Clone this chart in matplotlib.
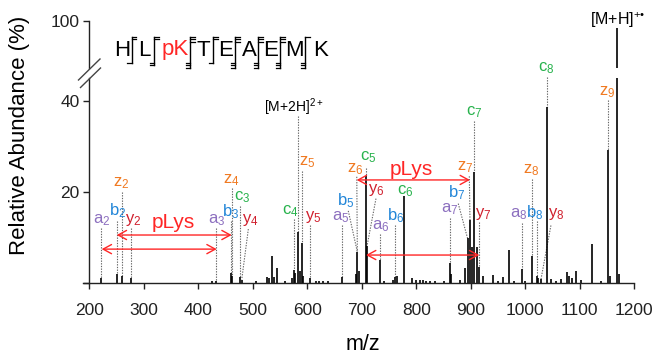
import matplotlib
matplotlib.use('Agg')
import matplotlib.pyplot as plt
from matplotlib.lines import Line2D

plt.rcParams['font.family'] = ['Liberation Sans', 'DejaVu Sans']
plt.rcParams['mathtext.fontset'] = 'custom'
plt.rcParams['mathtext.rm'] = 'Liberation Sans'
plt.rcParams['mathtext.it'] = 'Liberation Sans:italic'
plt.rcParams['mathtext.bf'] = 'Liberation Sans:bold'

# ---------------- data ----------------
peak_mz = [221.5, 250.3, 259.4, 276.5, 426, 431.9, 459.5, 461.5, 476, 479.7, 505,
           525.5, 530, 534.6, 538, 544.4, 560, 572, 575.6, 577.4, 583.5, 586, 590.8,
           593, 605, 616, 622, 628, 638, 663, 689, 691.8, 694, 707.2, 709.5, 733.4,
           740, 757, 761.5, 764, 778, 791.5, 800, 806, 812, 818, 826, 835, 850,
           861.8, 864, 880, 889.4, 894, 898.5, 902, 906.4, 910.8, 915, 923, 940,
           950, 959.6, 970, 980, 993.4, 1000, 1012.9, 1021, 1024, 1028.8, 1039,
           1048, 1056, 1065, 1076, 1080, 1085, 1092.5, 1103, 1121.9, 1138, 1151.1,
           1155.4, 1168.8, 1172]
peak_int = [1.0, 1.9, 1.5, 1.1, 0.3, 0.4, 2.1, 1.6, 1.2, 0.7, 0.3,
            1.3, 1.0, 5.9, 1.2, 3.3, 0.3, 1.0, 2.8, 2.2, 11.2, 2.5, 8.7,
            1.5, 1.0, 0.4, 0.4, 0.3, 0.3, 1.3, 2.0, 6.8, 2.5, 23.5, 8.0, 5.0,
            0.5, 0.7, 1.3, 1.6, 19.1, 1.0, 0.7, 0.6, 0.6, 0.5, 0.4, 0.3, 0.3,
            4.3, 2.0, 0.6, 3.3, 9.8, 13.8, 7.9, 24.4, 7.9, 3.5, 1.5, 1.7,
            0.5, 1.2, 7.1, 0.5, 3.0, 0.5, 5.9, 1.5, 1.0, 0.8, 38.6,
            0.8, 0.5, 0.8, 2.3, 1.5, 1.0, 2.7, 0.6, 8.5, 0.5, 29.2,
            1.5, 97.0, 2.0]

# assigned fragment ions: name, assigned peak m/z, peak intensity
ion_names = ['a2', 'b2', 'z2', 'y2', 'a3', 'b3', 'z4', 'c3', 'y4', 'c4', 'z5', 'y5',
             'a5', 'b5', 'z6', 'c5', 'y6', 'a6', 'b6', 'c6', 'a7', 'b7', 'z7', 'c7',
             'y7', 'a8', 'b8', 'z8', 'y8', 'c8', 'z9']
ion_mz = [221.5, 250.3, 259.4, 276.5, 431.9, 459.5, 461.5, 476, 479.7, 575.6, 590.8, 605,
          663, 691.8, 691.8, 707.2, 709.5, 733.4, 761.5, 778, 861.8, 894, 898.5, 906.4,
          915, 993.4, 1021, 1012.9, 1028.8, 1039, 1151.1]
ion_int = [1.0, 1.9, 1.5, 1.1, 0.4, 2.1, 1.6, 1.2, 0.7, 2.8, 8.7, 1.0,
           1.3, 6.8, 6.8, 23.5, 8.0, 5.0, 1.3, 19.1, 4.3, 9.8, 13.8, 24.4,
           3.5, 3.0, 1.5, 5.9, 0.8, 38.6, 29.2]

precursor_2h = (583.5, 11.2)
residues = ['H', 'L', 'pK', 'T', 'E', 'A', 'E', 'M', 'K']

x_ticks = [200, 300, 400, 500, 600, 700, 800, 900, 1000, 1100, 1200]

# ---------------- layout (label positions, data coords) ----------------
label_pos = {
    'a2': (222.7, 13.8), 'b2': (252, 15.8), 'z2': (259.4, 21.9), 'y2': (281, 13.8),
    'a3': (433.7, 13.8), 'b3': (460, 15.6), 'z4': (461.3, 22.6), 'c3': (480.5, 18.9),
    'y4': (494.9, 13.8), 'c4': (568.3, 15.8), 'z5': (599, 26.6), 'y5': (610, 14.5),
    'a5': (661.3, 14.5), 'b5': (671, 18.0), 'z6': (688.5, 25.0), 'c5': (712.5, 27.6),
    'y6': (727, 20.3), 'a6': (735, 12.5), 'b6': (762.5, 14.7), 'c6': (779.3, 20.2),
    'a7': (861.8, 16.2), 'b7': (874, 19.7), 'z7': (889.4, 25.4), 'c7': (906.4, 37.4),
    'y7': (923, 15.1), 'a8': (988.4, 15.1), 'b8': (1017.8, 15.5), 'z8': (1011.7, 24.8),
    'y8': (1056.3, 15.1), 'c8': (1038, 47.1), 'z9': (1149.4, 42.0),
}
leader_start = {
    'a2': (221.5, 12.0), 'b2': (250.3, 13.6), 'z2': (259.4, 20.0), 'y2': (276.5, 12.0),
    'a3': (431.9, 12.0), 'b3': (459.5, 13.6), 'z4': (461.5, 20.8), 'c3': (476, 16.8),
    'y4': (491.8, 11.8), 'c4': (575.6, 14.0), 'z5': (590.8, 24.6), 'y5': (605, 12.6),
    'a5': (663, 12.6), 'b5': (675.2, 15.8), 'z6': (690.8, 23.3), 'c5': (707.2, 25.2),
    'y6': (726, 18.5), 'a6': (733.4, 10.8), 'b6': (761.5, 12.6), 'c6': None,
    'a7': (861.8, 14.3), 'b7': (877, 17.4), 'z7': (897.3, 23.4), 'c7': (906.4, 35.6),
    'y7': (915, 13.4), 'a8': (993.4, 13.1), 'b8': (1021, 13.5), 'z8': (1012.9, 22.8),
    'y8': (1047, 12.6), 'c8': (1039, 45.3), 'z9': (1151.1, 40.1),
}
ion_colors = {'a': '#8c6fbf', 'b': '#2386d8', 'c': '#27b24c', 'y': '#d0202e', 'z': '#f07a22'}
red = '#ff2626'

W, H = 657, 355
fig = plt.figure(figsize=(W / 100, H / 100), dpi=100)


def fx(px):
    return px / W


def fy(py):
    return 1 - py / H


left_px, right_px = 83.3, 634.3
ax = fig.add_axes([fx(left_px), fy(282.8), fx(right_px) - fx(left_px), fy(78) - fy(282.8)])
axt = fig.add_axes([fx(left_px), fy(68), fx(right_px) - fx(left_px), fy(20.7) - fy(68)], sharex=ax)

for a in (ax, axt):
    a.vlines(peak_mz, 0, peak_int, color='black', lw=1.2)
    a.set_xlim(189, 1200)
    a.spines['top'].set_visible(False)
    a.spines['right'].set_visible(False)
    a.spines['left'].set_position(('data', 200))
    a.patch.set_visible(False)
    for s in a.spines.values():
        s.set_linewidth(1.0)
        s.set_color('#222222')

ax.set_ylim(0, 45)
axt.set_ylim(80, 100)
axt.spines['bottom'].set_visible(False)
axt.tick_params(axis='x', which='both', bottom=False, labelbottom=False)
axt.set_yticks([100])
axt.set_yticklabels(['100'])
ax.set_yticks([0, 20, 40])
ax.set_yticklabels(['', '20', '40'])
ax.set_xticks(x_ticks)
ax.set_xticklabels([str(t) for t in x_ticks])
for a in (ax, axt):
    a.tick_params(axis='y', direction='out', length=4.5, width=1.0, pad=2.5, labelsize=12.5, colors='#222222')
ax.tick_params(axis='x', direction='out', length=4.5, width=1.0, pad=10, labelsize=12.5, colors='#222222')

# dotted leaders and labels
for name, pm, pv in zip(ion_names, ion_mz, ion_int):
    t = name[0]
    lx, lv = label_pos[name]
    st = leader_start[name]
    if st is not None:
        ax.plot([st[0], pm], [st[1], pv], ls=(0, (1.2, 1.2)), color='#666666', lw=0.8,
                clip_on=False, zorder=1)
    ax.text(lx, lv, t + r'$_{\mathregular{' + name[1:] + '}}$', color=ion_colors[t],
            ha='center', va='center', fontsize=12, clip_on=False)

# precursor labels
ax.plot([precursor_2h[0], precursor_2h[0]], [36.6, precursor_2h[1]], ls=(0, (1.2, 1.2)),
        color='#666666', lw=0.8, zorder=1)
ax.text(574.3, 38.6, r'[M+2H]$^{\mathregular{2+}}$', ha='center', va='center', fontsize=10)
fig.text(fx(618), fy(20.5), '[M+H]$^{\\mathregular{+\u2022}}$', ha='center', va='center', fontsize=11.5)

# pLys arrows
arrow_kw = dict(arrowstyle='<->,head_length=0.55,head_width=0.3', color=red, lw=1.0,
                shrinkA=0, shrinkB=0, mutation_scale=11)
ax.annotate('', xy=(461.3, 10.5), xytext=(250.3, 10.5), arrowprops=arrow_kw)
ax.annotate('', xy=(433.8, 7.4), xytext=(222.7, 7.4), arrowprops=arrow_kw)
ax.annotate('', xy=(898.5, 22.6), xytext=(690.6, 22.6), arrowprops=arrow_kw)
ax.annotate('', xy=(915.6, 6.1), xytext=(707.7, 6.1), arrowprops=arrow_kw)
ax.text(354, 13.2, 'pLys', color=red, ha='center', va='center', fontsize=15)
ax.text(791.5, 25.0, 'pLys', color=red, ha='center', va='center', fontsize=15)

# axis labels
fig.text(fx(20), fy(135), 'Relative Abundance (%)', rotation=90, ha='center', va='center', fontsize=16)
fig.text(fx(363), fy(344.5), 'm/z', ha='center', va='center', fontsize=15.5)

# axis break marks
for (x1, y1, x2, y2) in [(78.5, 80, 100, 59), (80.5, 87.5, 100.5, 68)]:
    fig.add_artist(Line2D([fx(x1), fx(x2)], [fy(y1), fy(y2)], color='#444444', lw=1.0))

# peptide sequence with fragment markers
res_x = [122.5, 144, 175, 203, 226, 249, 271, 294, 321]
for r, x in zip(residues, res_x):
    fig.text(fx(x), fy(50), r, ha='center', va='center', fontsize=16,
             color=red if r == 'pK' else 'black')
sep_x = [131.7, 154, 190, 213.3, 235, 258.3, 280, 305]
n_top = [2, 2, 3, 2, 3, 3, 3, 1]
n_bot = [1, 2, 3, 1, 3, 3, 3, 3]
for x, nt, nb in zip(sep_x, n_top, n_bot):
    y_top, y_bot = 36.5, 63 + 2.3 * (nb - 1)
    fig.add_artist(Line2D([fx(x), fx(x)], [fy(y_top), fy(y_bot)], color='black', lw=1.0))
    for k in range(nt):
        yy = y_top + 2.6 * k
        fig.add_artist(Line2D([fx(x), fx(x + 4.5)], [fy(yy), fy(yy)], color='black', lw=0.9))
    for k in range(nb):
        yy = y_bot - 2.3 * k
        fig.add_artist(Line2D([fx(x - 4.5), fx(x)], [fy(yy), fy(yy)], color='black', lw=0.9))

fig.savefig('out.png', dpi=100)
